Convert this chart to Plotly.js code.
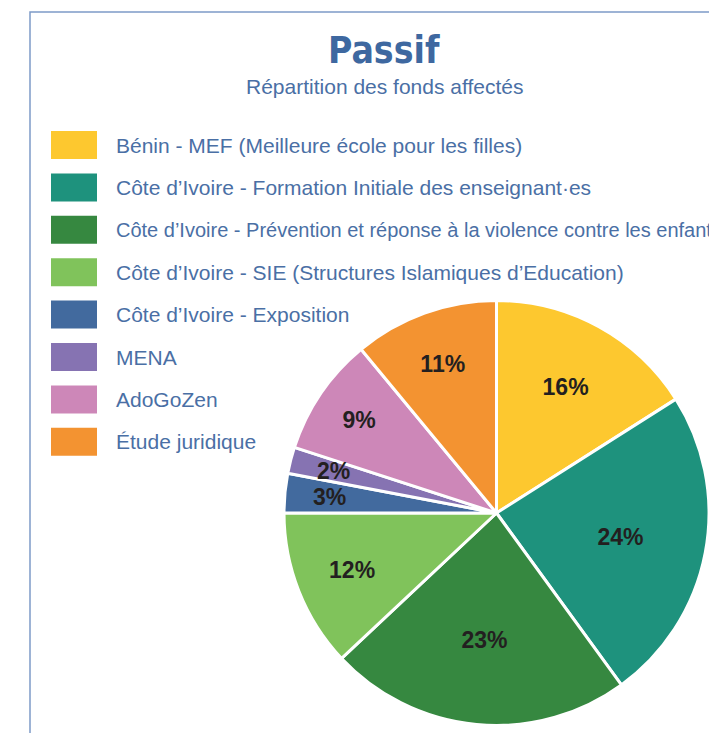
<!DOCTYPE html>
<html>
<head>
<meta charset="utf-8">
<script src="https://cdn.plot.ly/plotly-3.0.1.min.js"></script>
<style>html,body{margin:0;padding:0;background:#fff;}#chart{width:709px;height:733px;}</style>
</head>
<body>
<div id="chart"></div>
<script>
const labels = [
  "Bénin - MEF (Meilleure école pour les filles)",
  "Côte d’Ivoire - Formation Initiale des enseignant·es",
  "Côte d’Ivoire - Prévention et réponse à la violence contre les enfants",
  "Côte d’Ivoire - SIE (Structures Islamiques d’Education)",
  "Côte d’Ivoire - Exposition",
  "MENA",
  "AdoGoZen",
  "Étude juridique"
];
const values = [16, 24, 23, 12, 3, 2, 9, 11];
const colors = ["#FDC82F", "#1E927D", "#368840", "#80C35B", "#426A9E", "#8673B2", "#CD87B8", "#F39331"];
const titleText = "Passif";
const subtitleText = "Répartition des fonds affectés";

const W = 709, H = 733;
const px = x => x / W;
const py = y => 1 - y / H;

const labelFont = {family: "Liberation Sans, Arial, sans-serif", size: 23, color: "#231F20"};
const smallSlice = 4; // slices below this share get their label as an annotation (Plotly would shrink it)

const shapes = [];
const annotations = [];

// frame
shapes.push({type: "rect", xref: "paper", yref: "paper",
  x0: px(30), x1: px(720), y0: py(760), y1: py(12),
  line: {color: "#7E9BC7", width: 1.5}, fillcolor: "rgba(0,0,0,0)", layer: "below"});

// legend swatches + labels
labels.forEach((lab, i) => {
  const yTop = 131 + i * 42.4;
  shapes.push({type: "rect", xref: "paper", yref: "paper",
    x0: px(51), x1: px(97), y0: py(yTop + 28), y1: py(yTop),
    line: {width: 0}, fillcolor: colors[i]});
  annotations.push({xref: "paper", yref: "paper", x: px(114), y: py(yTop + 14),
    xanchor: "left", yanchor: "middle", showarrow: false, text: lab,
    font: {family: "Liberation Sans, Arial, sans-serif", size: lab.length > 60 ? 20 : 21, color: "#4A6FA5"}});
});

// title & subtitle
annotations.push({xref: "paper", yref: "paper", x: px(384), y: py(50), xanchor: "center", yanchor: "middle",
  showarrow: false, text: "<b>" + titleText + "</b>",
  font: {family: "Liberation Sans Narrow, DejaVu Sans Condensed, Arial Narrow, sans-serif", size: 37, color: "#3E68A0"}});
annotations.push({xref: "paper", yref: "paper", x: px(384), y: py(87), xanchor: "center", yanchor: "middle",
  showarrow: false, text: subtitleText,
  font: {family: "Liberation Sans, Arial, sans-serif", size: 21, color: "#4A6FA5"}});

// pie geometry (paper domain)
const dom = {x: [px(284), 1], y: [py(725.5), py(300.5)]};
const cxPx = (284 + 709) / 2, cyPx = (300.5 + 725.5) / 2, rPx = 212.5;

// labels for tiny slices, placed at slice mid-angle
const total = values.reduce((a, b) => a + b, 0);
let cum = 0;
const texts = values.map(v => {
  const pct = Math.round(100 * v / total) + "%";
  const mid = 2 * Math.PI * (cum + v / 2) / total;
  cum += v;
  if (100 * v / total < smallSlice) {
    const f = 0.79;
    annotations.push({xref: "paper", yref: "paper",
      x: px(cxPx + rPx * f * Math.sin(mid)), y: py(cyPx - rPx * f * Math.cos(mid)),
      xanchor: "center", yanchor: "middle", showarrow: false,
      text: "<b>" + pct + "</b>", font: labelFont});
    return "";
  }
  return "<b>" + pct + "</b>";
});

const trace = {
  type: "pie",
  labels: labels,
  values: values,
  text: texts,
  sort: false,
  direction: "clockwise",
  rotation: 0,
  marker: {colors: colors, line: {color: "#ffffff", width: 3}},
  textinfo: "text",
  texttemplate: "%{text}",
  textposition: "inside",
  insidetextorientation: "horizontal",
  insidetextfont: labelFont,
  hoverinfo: "label+percent",
  showlegend: false,
  domain: dom
};

Plotly.newPlot("chart", [trace], {
  width: W, height: H,
  margin: {l: 0, r: 0, t: 0, b: 0},
  paper_bgcolor: "#ffffff",
  showlegend: false,
  shapes: shapes,
  annotations: annotations
}, {displayModeBar: false, staticPlot: true});
</script>
</body>
</html>
